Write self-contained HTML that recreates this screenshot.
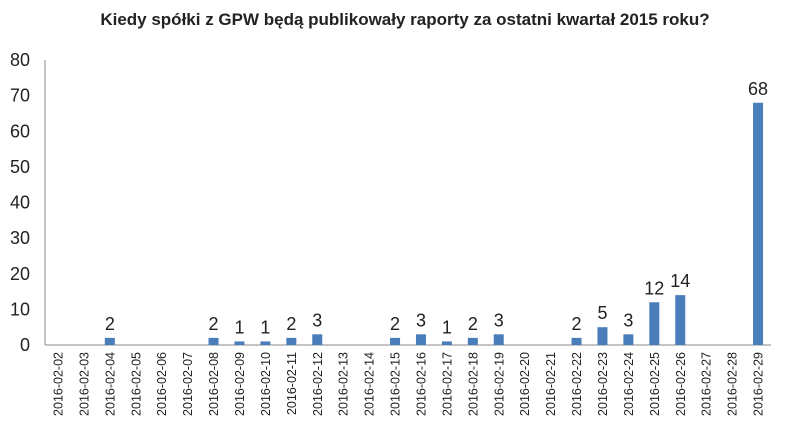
<!DOCTYPE html>
<html><head><meta charset="utf-8"><style>
body{margin:0;background:#fff;}
svg{display:block;font-family:"Liberation Sans","DejaVu Sans",sans-serif;}
</style></head><body>
<svg id="chart" width="786" height="433">
<text x="405" y="25" text-anchor="middle" font-size="17" font-weight="bold" fill="#222">Kiedy spółki z GPW będą publikowały raporty za ostatni kwartał 2015 roku?</text>
<g id="yaxis"></g><g id="bars"></g><g id="xlabels"></g>
</svg>
<script>
const categories=["2016-02-02","2016-02-03","2016-02-04","2016-02-05","2016-02-06","2016-02-07","2016-02-08","2016-02-09","2016-02-10","2016-02-11","2016-02-12","2016-02-13","2016-02-14","2016-02-15","2016-02-16","2016-02-17","2016-02-18","2016-02-19","2016-02-20","2016-02-21","2016-02-22","2016-02-23","2016-02-24","2016-02-25","2016-02-26","2016-02-27","2016-02-28","2016-02-29"];
const values=[0,0,2,0,0,0,2,1,1,2,3,0,0,2,3,1,2,3,0,0,2,5,3,12,14,0,0,68];
const yTicks=[0,10,20,30,40,50,60,70,80];
const NS="http://www.w3.org/2000/svg";
const x0=45,x1=771,yTop=60,yBot=345,yMax=80;
const band=(x1-x0)/categories.length;
const xc=i=>x0+band*(i+0.5);
const y=v=>yBot-(yBot-yTop)*v/yMax;
function mk(t,a){const e=document.createElementNS(NS,t);for(const k in a)e.setAttribute(k,a[k]);return e;}
const ya=document.getElementById('yaxis');
const axl=mk('line',{x1:x0,y1:yTop,x2:x0,y2:yBot,stroke:'#888','stroke-width':1});


ya.appendChild(axl);
const axb=mk('line',{x1:x0,y1:yBot,x2:x1,y2:yBot,stroke:'#888','stroke-width':1});


ya.appendChild(axb);
yTicks.forEach(t=>{
 const tx=mk('text',{x:30,y:y(t)+6,'text-anchor':'end','font-size':18,fill:'#222'});
 
 
 tx.textContent=t;ya.appendChild(tx);
});
const bg=document.getElementById('bars'),xl=document.getElementById('xlabels');
values.forEach((v,i)=>{
 if(v>0){
  const r=mk('rect',{x:xc(i)-5,y:y(v),width:10,height:yBot-y(v),fill:'#4a7ebb'});
  
  
  bg.appendChild(r);
  const l=mk('text',{x:xc(i),y:y(v)-8,'text-anchor':'middle','font-size':18,fill:'#222'});
  
  
  l.textContent=v;bg.appendChild(l);
 }
 const c=mk('text',{transform:`translate(${xc(i)+4.5},352) rotate(-90)`,'text-anchor':'end','font-size':12.5,fill:'#222'});
 
 
 c.textContent=categories[i];xl.appendChild(c);
});
</script>
</body></html>
